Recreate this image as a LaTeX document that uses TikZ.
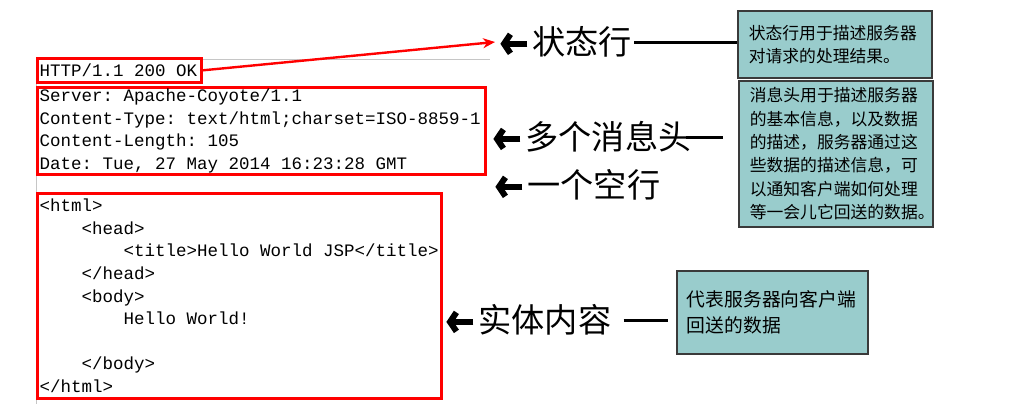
\documentclass[tikz,border=0pt]{standalone}
\usepackage{fontspec}
\setmonofont{Liberation Mono}
\newfontfamily\cjk{Noto Sans CJK SC}
\usepackage{tikz}
\usetikzlibrary{arrows.meta, positioning}
\definecolor{notefill}{HTML}{99CCCC}
\definecolor{noteline}{HTML}{3A3A3A}
\newcommand{\fatarr}{\tikz[baseline=-0.6ex]\draw[line width=3pt, -{Straight Barb[length=3.2pt, width=9.5pt]}] (0,0) -- (-13.5pt,0);\hspace{1pt}}
\newcommand{\ind}{\phantom{xxxx}}

\begin{document}
\begin{tikzpicture}[x=0.5pt, y=-0.5pt, >=Stealth,
    code/.style={draw=red, line width=1.3pt, anchor=north west, inner xsep=1.2pt, inner ysep=0pt, align=left,
        font=\ttfamily\fontsize{8.75}{11.3}\selectfont, execute at begin node={\spaceskip=0pt\xspaceskip=0pt}},
    lbl/.style={anchor=west, inner sep=1pt, font=\cjk\fontsize{16.6}{18}\selectfont},
    note/.style={draw=noteline, fill=notefill, line width=0.8pt, anchor=north west, inner xsep=5.5pt, inner ysep=0pt,
        align=left, font=\cjk\fontsize{8.4}{11.7}\selectfont},
    conn/.style={line width=1.5pt}]
    \useasboundingbox (0,0) rectangle (1014,404);
    % page edges of the response
    \draw[gray!45] (36,59) -- (490,59);
    \draw[gray!45] (36,59) -- (36,404);

    % the response, part by part
    \node[code, text width=79.8pt, minimum height=12pt] (status) at (36,57) {HTTP/1.1 200 OK};
    \node[code, text width=221.6pt, minimum height=43.5pt] (headers) at (36,86)
        {Server: Apache-Coyote/1.1\\Content-Type: text/html;charset=ISO-8859-1\\Content-Length: 105\\Date: Tue, 27 May 2014 16:23:28 GMT};
    \node[code, text width=199.6pt, minimum height=102.5pt] (entity) at (36,192)
        {<html>\\\ind<head>\\\ind\ind<title>Hello World JSP</title>\\\ind</head>\\\ind<body>\\\ind\ind Hello World!\\\mbox{}\\\ind</body>\\</html>};

    % labels
    \node[lbl] (lblstatus) at (495,42) {\fatarr 状态行};
    \node[lbl] (lblheaders) at (488,137) {\fatarr 多个消息头};
    \node[lbl] (lblblank) at (490,185) {\fatarr 一个空行};
    \node[lbl] (lblentity) at (441,320) {\fatarr 实体内容};

    % notes
    \node[note, text width=86pt, minimum height=33.5pt] (notestatus) at (737,10)
        {状态行用于描述服务器\\对请求的处理结果。};
    \node[note, text width=86pt, minimum height=73pt] (noteheaders) at (738,80)
        {消息头用于描述服务器\\的基本信息，以及数据\\的描述，服务器通过这\\些数据的描述信息，可\\以通知客户端如何处理\\等一会儿它回送的数据。};
    \node[note, inner xsep=5pt, text width=85.5pt, minimum height=41.5pt, font=\cjk\fontsize{9.4}{13}\selectfont] (noteentity) at (676,270)
        {代表服务器向客户端\\回送的数据};

    \draw[red, line width=1.2pt, -{Stealth[length=6pt, width=5pt]}] (status.east) -- (lblstatus.west);
    \draw[conn] (lblstatus.east) -- (lblstatus.east -| notestatus.west);
    \draw[conn, shorten <=-4pt, shorten >=7.5pt] (lblheaders.east) -- (lblheaders.east -| noteheaders.west);
    \draw[conn, shorten <=5pt, shorten >=4pt] (lblentity.east) -- (lblentity.east -| noteentity.west);
\end{tikzpicture}
\end{document}
